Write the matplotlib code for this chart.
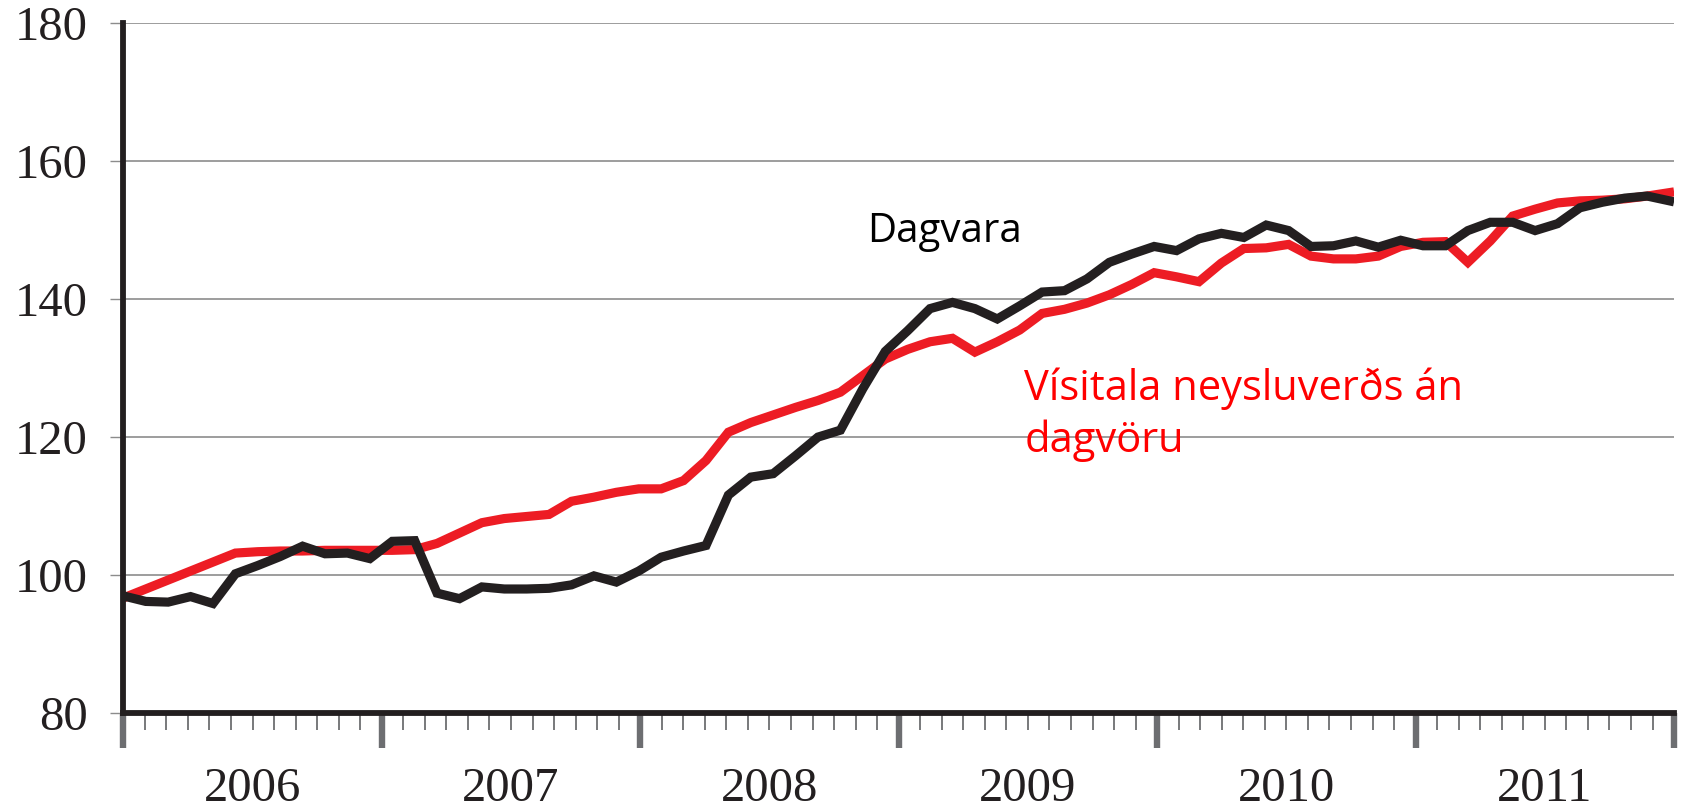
import numpy as np
import matplotlib
matplotlib.use("Agg")
import matplotlib.pyplot as plt
from matplotlib.transforms import blended_transform_factory

# monthly index values
dagvara = [97.0, 96.2, 96.1, 96.9, 95.9, 100.2, 101.4, 102.7, 104.2, 103.1,
           103.2, 102.4, 104.9, 105.0, 97.4, 96.6, 98.3, 98.0, 98.0, 98.1,
           98.6, 99.9, 99.0, 100.6, 102.6, 103.5, 104.3, 111.6, 114.2, 114.7,
           117.3, 120.0, 121.0, 127.0, 132.4, 135.4, 138.6, 139.5, 138.6, 137.1,
           139.0, 141.0, 141.2, 142.9, 145.3, 146.5, 147.6, 147.0, 148.7, 149.5,
           148.9, 150.7, 149.9, 147.6, 147.7, 148.4, 147.5, 148.5, 147.7, 147.7,
           149.9, 151.1, 151.1, 149.9, 150.9, 153.2, 154.0, 154.6, 154.9, 154.2]

visitala = [96.7, 98.0, 99.3, 100.6, 101.9, 103.2, 103.4, 103.5, 103.5, 103.6,
            103.6, 103.6, 103.6, 103.7, 104.6, 106.1, 107.6, 108.2, 108.5, 108.8,
            110.7, 111.3, 112.0, 112.5, 112.5, 113.7, 116.6, 120.7, 122.1, 123.2,
            124.3, 125.3, 126.5, 128.9, 131.3, 132.7, 133.8, 134.3, 132.3, 133.8,
            135.5, 137.9, 138.5, 139.4, 140.6, 142.1, 143.8, 143.2, 142.5, 145.2,
            147.3, 147.4, 147.9, 146.2, 145.8, 145.8, 146.2, 147.6, 148.2, 148.3,
            145.3, 148.4, 152.0, 153.0, 153.9, 154.2, 154.3, 154.5, 154.9, 155.4]

years = ["2006", "2007", "2008", "2009", "2010", "2011"]
y_ticks = [80, 100, 120, 140, 160, 180]

label_black = "Dagvara"
label_red = "Vísitala neysluverðs án\ndagvöru"

BLACK = "#231f20"
RED = "#ed1c24"
GREY = "#6d6e71"
GRID = "#8c8c8c"

x = np.arange(len(dagvara))
x_end = 69.2  # axis end (Dec 2011 tick), in data-point units
n_months = 12 * len(years)

fig = plt.figure(figsize=(16.85, 8.08), dpi=100)
ax = fig.add_axes([0.0732, 0.1172, 0.9203, 0.8547])

ax.plot(x, visitala, color=RED, lw=6.6, solid_joinstyle="miter", zorder=3)
ax.plot(x, dagvara, color=BLACK, lw=6.6, solid_joinstyle="miter", zorder=4)

ax.set_xlim(0, x_end)
ax.set_ylim(80, 180)

# axes frame
for side in ("top", "right"):
    ax.spines[side].set_visible(False)
for side in ("left", "bottom"):
    ax.spines[side].set_color(BLACK)
    ax.spines[side].set_linewidth(4.2)
    ax.spines[side].set_zorder(5)

# y axis: grid + thin grey ticks
ax.set_yticks(y_ticks)
ax.yaxis.grid(True, color=GRID, lw=1.2, zorder=1)
ax.set_axisbelow(True)
ax.tick_params(axis="y", length=9.5, width=1.0, color=GRID, pad=16,
               labelsize=35, labelcolor=BLACK)
for lab in ax.get_yticklabels():
    lab.set_fontfamily("Liberation Serif")

# x axis: year ticks (major) and month ticks (minor)
ax.set_xticks(np.linspace(0, x_end, len(years) + 1))
ax.set_xticks(np.linspace(0, x_end, n_months + 1), minor=True)
ax.set_xticklabels([])
ax.tick_params(axis="x", which="major", length=25, width=4.6, color=GREY)
ax.tick_params(axis="x", which="minor", length=12.5, width=1.3, color=GREY)

trans = blended_transform_factory(ax.transData, ax.transAxes)
year_step = x_end / len(years)
for k, yr in enumerate(years):
    ax.text((k + 0.5) * year_step, -0.109, yr, transform=trans,
            ha="center", va="center", fontsize=35, color=BLACK,
            family="Liberation Serif")

# series labels
ax.text(33.2, 149.7, label_black, ha="left", va="center", fontsize=29,
        color="black", family="Open Sans", zorder=6)
ax.text(40.2, 123.2, label_red, ha="left", va="center", fontsize=30,
        color="#ff0000", family="Open Sans", linespacing=1.3, zorder=6)

fig.savefig("out.png", dpi=100, facecolor="white")
